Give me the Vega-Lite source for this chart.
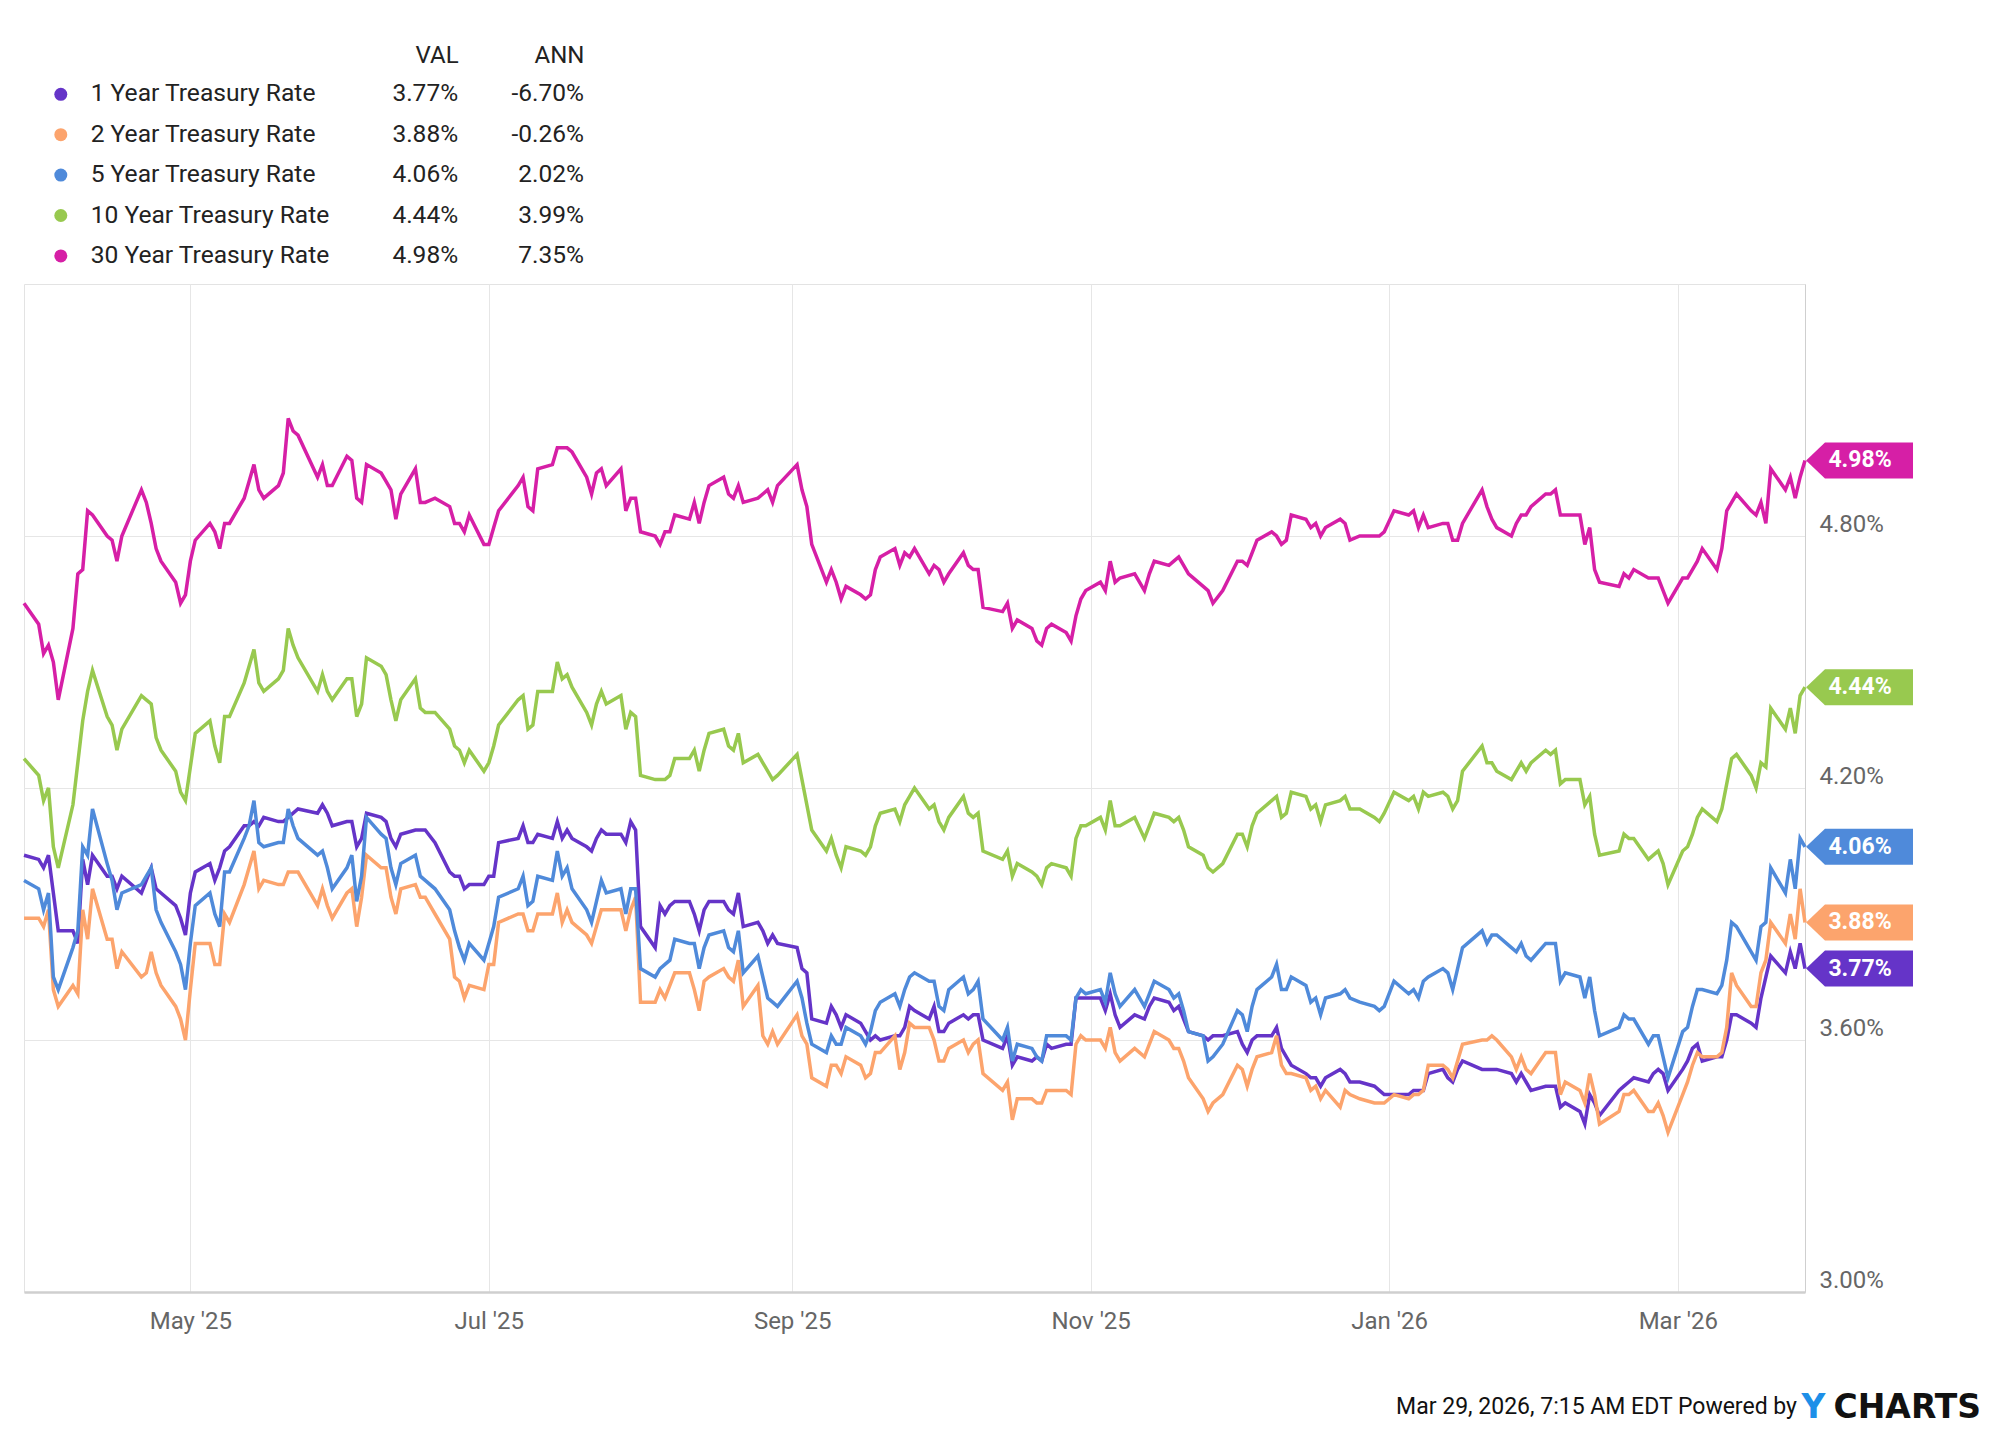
{
"$schema":"https://vega.github.io/schema/vega-lite/v6.json",
"width":1781,"height":1008,
"autosize":{"type":"none"},
"padding":{"left":24,"top":284,"right":195,"bottom":143},
"background":"white",
"config":{"view":{"stroke":"#e3e3e3","strokeWidth":1},"font":"Roboto"},
"title":{"text":"Mar 29, 2026, 7:15 AM EDT Powered by","orient":"bottom","anchor":"end","frame":"group","dx":-8,"offset":-17,"baseline":"middle","font":"Roboto","fontSize":23,"fontWeight":"normal","color":"#111111"},
"datasets":{
"last":[
{"d":"2026-03-27","s":"1","v":3.77,"val":"3.77%","ann":"-6.70%"},
{"d":"2026-03-27","s":"2","v":3.88,"val":"3.88%","ann":"-0.26%"},
{"d":"2026-03-27","s":"5","v":4.06,"val":"4.06%","ann":"2.02%"},
{"d":"2026-03-27","s":"10","v":4.44,"val":"4.44%","ann":"3.99%"},
{"d":"2026-03-27","s":"30","v":4.98,"val":"4.98%","ann":"7.35%"}
],
"rates":[
{"d":"2025-03-28","s":"1","v":4.04},{"d":"2025-03-28","s":"2","v":3.89},{"d":"2025-03-28","s":"5","v":3.98},{"d":"2025-03-28","s":"10","v":4.27},{"d":"2025-03-28","s":"30","v":4.64},
{"d":"2025-03-31","s":"1","v":4.03},{"d":"2025-03-31","s":"2","v":3.89},{"d":"2025-03-31","s":"5","v":3.96},{"d":"2025-03-31","s":"10","v":4.23},{"d":"2025-03-31","s":"30","v":4.59},
{"d":"2025-04-01","s":"1","v":4.01},{"d":"2025-04-01","s":"2","v":3.87},{"d":"2025-04-01","s":"5","v":3.91},{"d":"2025-04-01","s":"10","v":4.17},{"d":"2025-04-01","s":"30","v":4.52},
{"d":"2025-04-02","s":"1","v":4.04},{"d":"2025-04-02","s":"2","v":3.91},{"d":"2025-04-02","s":"5","v":3.95},{"d":"2025-04-02","s":"10","v":4.20},{"d":"2025-04-02","s":"30","v":4.54},
{"d":"2025-04-03","s":"1","v":3.95},{"d":"2025-04-03","s":"2","v":3.72},{"d":"2025-04-03","s":"5","v":3.75},{"d":"2025-04-03","s":"10","v":4.06},{"d":"2025-04-03","s":"30","v":4.50},
{"d":"2025-04-04","s":"1","v":3.86},{"d":"2025-04-04","s":"2","v":3.68},{"d":"2025-04-04","s":"5","v":3.72},{"d":"2025-04-04","s":"10","v":4.01},{"d":"2025-04-04","s":"30","v":4.41},
{"d":"2025-04-07","s":"1","v":3.86},{"d":"2025-04-07","s":"2","v":3.73},{"d":"2025-04-07","s":"5","v":3.82},{"d":"2025-04-07","s":"10","v":4.16},{"d":"2025-04-07","s":"30","v":4.58},
{"d":"2025-04-08","s":"1","v":3.83},{"d":"2025-04-08","s":"2","v":3.71},{"d":"2025-04-08","s":"5","v":3.86},{"d":"2025-04-08","s":"10","v":4.26},{"d":"2025-04-08","s":"30","v":4.71},
{"d":"2025-04-09","s":"1","v":4.03},{"d":"2025-04-09","s":"2","v":3.91},{"d":"2025-04-09","s":"5","v":4.06},{"d":"2025-04-09","s":"10","v":4.36},{"d":"2025-04-09","s":"30","v":4.72},
{"d":"2025-04-10","s":"1","v":3.97},{"d":"2025-04-10","s":"2","v":3.84},{"d":"2025-04-10","s":"5","v":4.04},{"d":"2025-04-10","s":"10","v":4.43},{"d":"2025-04-10","s":"30","v":4.86},
{"d":"2025-04-11","s":"1","v":4.04},{"d":"2025-04-11","s":"2","v":3.96},{"d":"2025-04-11","s":"5","v":4.15},{"d":"2025-04-11","s":"10","v":4.48},{"d":"2025-04-11","s":"30","v":4.85},
{"d":"2025-04-14","s":"1","v":3.99},{"d":"2025-04-14","s":"2","v":3.84},{"d":"2025-04-14","s":"5","v":4.02},{"d":"2025-04-14","s":"10","v":4.37},{"d":"2025-04-14","s":"30","v":4.80},
{"d":"2025-04-15","s":"1","v":3.99},{"d":"2025-04-15","s":"2","v":3.84},{"d":"2025-04-15","s":"5","v":3.98},{"d":"2025-04-15","s":"10","v":4.35},{"d":"2025-04-15","s":"30","v":4.79},
{"d":"2025-04-16","s":"1","v":3.96},{"d":"2025-04-16","s":"2","v":3.77},{"d":"2025-04-16","s":"5","v":3.91},{"d":"2025-04-16","s":"10","v":4.29},{"d":"2025-04-16","s":"30","v":4.74},
{"d":"2025-04-17","s":"1","v":3.99},{"d":"2025-04-17","s":"2","v":3.81},{"d":"2025-04-17","s":"5","v":3.95},{"d":"2025-04-17","s":"10","v":4.34},{"d":"2025-04-17","s":"30","v":4.80},
{"d":"2025-04-21","s":"1","v":3.95},{"d":"2025-04-21","s":"2","v":3.75},{"d":"2025-04-21","s":"5","v":3.97},{"d":"2025-04-21","s":"10","v":4.42},{"d":"2025-04-21","s":"30","v":4.91},
{"d":"2025-04-22","s":"1","v":3.98},{"d":"2025-04-22","s":"2","v":3.76},{"d":"2025-04-22","s":"5","v":3.99},{"d":"2025-04-22","s":"10","v":4.41},{"d":"2025-04-22","s":"30","v":4.88},
{"d":"2025-04-23","s":"1","v":4.01},{"d":"2025-04-23","s":"2","v":3.81},{"d":"2025-04-23","s":"5","v":4.01},{"d":"2025-04-23","s":"10","v":4.40},{"d":"2025-04-23","s":"30","v":4.83},
{"d":"2025-04-24","s":"1","v":3.96},{"d":"2025-04-24","s":"2","v":3.76},{"d":"2025-04-24","s":"5","v":3.91},{"d":"2025-04-24","s":"10","v":4.32},{"d":"2025-04-24","s":"30","v":4.77},
{"d":"2025-04-25","s":"1","v":3.95},{"d":"2025-04-25","s":"2","v":3.73},{"d":"2025-04-25","s":"5","v":3.88},{"d":"2025-04-25","s":"10","v":4.29},{"d":"2025-04-25","s":"30","v":4.74},
{"d":"2025-04-28","s":"1","v":3.92},{"d":"2025-04-28","s":"2","v":3.68},{"d":"2025-04-28","s":"5","v":3.81},{"d":"2025-04-28","s":"10","v":4.24},{"d":"2025-04-28","s":"30","v":4.69},
{"d":"2025-04-29","s":"1","v":3.89},{"d":"2025-04-29","s":"2","v":3.65},{"d":"2025-04-29","s":"5","v":3.78},{"d":"2025-04-29","s":"10","v":4.19},{"d":"2025-04-29","s":"30","v":4.64},
{"d":"2025-04-30","s":"1","v":3.85},{"d":"2025-04-30","s":"2","v":3.60},{"d":"2025-04-30","s":"5","v":3.72},{"d":"2025-04-30","s":"10","v":4.17},{"d":"2025-04-30","s":"30","v":4.66},
{"d":"2025-05-01","s":"1","v":3.95},{"d":"2025-05-01","s":"2","v":3.72},{"d":"2025-05-01","s":"5","v":3.83},{"d":"2025-05-01","s":"10","v":4.25},{"d":"2025-05-01","s":"30","v":4.74},
{"d":"2025-05-02","s":"1","v":4.00},{"d":"2025-05-02","s":"2","v":3.83},{"d":"2025-05-02","s":"5","v":3.92},{"d":"2025-05-02","s":"10","v":4.33},{"d":"2025-05-02","s":"30","v":4.79},
{"d":"2025-05-05","s":"1","v":4.02},{"d":"2025-05-05","s":"2","v":3.83},{"d":"2025-05-05","s":"5","v":3.95},{"d":"2025-05-05","s":"10","v":4.36},{"d":"2025-05-05","s":"30","v":4.83},
{"d":"2025-05-06","s":"1","v":3.98},{"d":"2025-05-06","s":"2","v":3.78},{"d":"2025-05-06","s":"5","v":3.90},{"d":"2025-05-06","s":"10","v":4.30},{"d":"2025-05-06","s":"30","v":4.81},
{"d":"2025-05-07","s":"1","v":4.01},{"d":"2025-05-07","s":"2","v":3.78},{"d":"2025-05-07","s":"5","v":3.87},{"d":"2025-05-07","s":"10","v":4.26},{"d":"2025-05-07","s":"30","v":4.77},
{"d":"2025-05-08","s":"1","v":4.05},{"d":"2025-05-08","s":"2","v":3.90},{"d":"2025-05-08","s":"5","v":4.00},{"d":"2025-05-08","s":"10","v":4.37},{"d":"2025-05-08","s":"30","v":4.83},
{"d":"2025-05-09","s":"1","v":4.06},{"d":"2025-05-09","s":"2","v":3.88},{"d":"2025-05-09","s":"5","v":4.00},{"d":"2025-05-09","s":"10","v":4.37},{"d":"2025-05-09","s":"30","v":4.83},
{"d":"2025-05-12","s":"1","v":4.11},{"d":"2025-05-12","s":"2","v":3.97},{"d":"2025-05-12","s":"5","v":4.08},{"d":"2025-05-12","s":"10","v":4.45},{"d":"2025-05-12","s":"30","v":4.89},
{"d":"2025-05-13","s":"1","v":4.11},{"d":"2025-05-13","s":"2","v":4.01},{"d":"2025-05-13","s":"5","v":4.11},{"d":"2025-05-13","s":"10","v":4.49},{"d":"2025-05-13","s":"30","v":4.93},
{"d":"2025-05-14","s":"1","v":4.12},{"d":"2025-05-14","s":"2","v":4.05},{"d":"2025-05-14","s":"5","v":4.17},{"d":"2025-05-14","s":"10","v":4.53},{"d":"2025-05-14","s":"30","v":4.97},
{"d":"2025-05-15","s":"1","v":4.11},{"d":"2025-05-15","s":"2","v":3.96},{"d":"2025-05-15","s":"5","v":4.07},{"d":"2025-05-15","s":"10","v":4.45},{"d":"2025-05-15","s":"30","v":4.91},
{"d":"2025-05-16","s":"1","v":4.13},{"d":"2025-05-16","s":"2","v":3.98},{"d":"2025-05-16","s":"5","v":4.06},{"d":"2025-05-16","s":"10","v":4.43},{"d":"2025-05-16","s":"30","v":4.89},
{"d":"2025-05-19","s":"1","v":4.12},{"d":"2025-05-19","s":"2","v":3.97},{"d":"2025-05-19","s":"5","v":4.07},{"d":"2025-05-19","s":"10","v":4.46},{"d":"2025-05-19","s":"30","v":4.92},
{"d":"2025-05-20","s":"1","v":4.12},{"d":"2025-05-20","s":"2","v":3.97},{"d":"2025-05-20","s":"5","v":4.07},{"d":"2025-05-20","s":"10","v":4.48},{"d":"2025-05-20","s":"30","v":4.95},
{"d":"2025-05-21","s":"1","v":4.13},{"d":"2025-05-21","s":"2","v":4.00},{"d":"2025-05-21","s":"5","v":4.15},{"d":"2025-05-21","s":"10","v":4.58},{"d":"2025-05-21","s":"30","v":5.08},
{"d":"2025-05-22","s":"1","v":4.14},{"d":"2025-05-22","s":"2","v":4.00},{"d":"2025-05-22","s":"5","v":4.11},{"d":"2025-05-22","s":"10","v":4.54},{"d":"2025-05-22","s":"30","v":5.05},
{"d":"2025-05-23","s":"1","v":4.15},{"d":"2025-05-23","s":"2","v":4.00},{"d":"2025-05-23","s":"5","v":4.08},{"d":"2025-05-23","s":"10","v":4.51},{"d":"2025-05-23","s":"30","v":5.04},
{"d":"2025-05-27","s":"1","v":4.14},{"d":"2025-05-27","s":"2","v":3.92},{"d":"2025-05-27","s":"5","v":4.04},{"d":"2025-05-27","s":"10","v":4.43},{"d":"2025-05-27","s":"30","v":4.94},
{"d":"2025-05-28","s":"1","v":4.16},{"d":"2025-05-28","s":"2","v":3.96},{"d":"2025-05-28","s":"5","v":4.05},{"d":"2025-05-28","s":"10","v":4.47},{"d":"2025-05-28","s":"30","v":4.97},
{"d":"2025-05-29","s":"1","v":4.14},{"d":"2025-05-29","s":"2","v":3.92},{"d":"2025-05-29","s":"5","v":4.01},{"d":"2025-05-29","s":"10","v":4.43},{"d":"2025-05-29","s":"30","v":4.92},
{"d":"2025-05-30","s":"1","v":4.11},{"d":"2025-05-30","s":"2","v":3.89},{"d":"2025-05-30","s":"5","v":3.96},{"d":"2025-05-30","s":"10","v":4.41},{"d":"2025-05-30","s":"30","v":4.92},
{"d":"2025-06-02","s":"1","v":4.12},{"d":"2025-06-02","s":"2","v":3.95},{"d":"2025-06-02","s":"5","v":4.01},{"d":"2025-06-02","s":"10","v":4.46},{"d":"2025-06-02","s":"30","v":4.99},
{"d":"2025-06-03","s":"1","v":4.12},{"d":"2025-06-03","s":"2","v":3.96},{"d":"2025-06-03","s":"5","v":4.04},{"d":"2025-06-03","s":"10","v":4.46},{"d":"2025-06-03","s":"30","v":4.98},
{"d":"2025-06-04","s":"1","v":4.06},{"d":"2025-06-04","s":"2","v":3.87},{"d":"2025-06-04","s":"5","v":3.93},{"d":"2025-06-04","s":"10","v":4.37},{"d":"2025-06-04","s":"30","v":4.89},
{"d":"2025-06-05","s":"1","v":4.08},{"d":"2025-06-05","s":"2","v":3.94},{"d":"2025-06-05","s":"5","v":3.99},{"d":"2025-06-05","s":"10","v":4.40},{"d":"2025-06-05","s":"30","v":4.88},
{"d":"2025-06-06","s":"1","v":4.14},{"d":"2025-06-06","s":"2","v":4.04},{"d":"2025-06-06","s":"5","v":4.13},{"d":"2025-06-06","s":"10","v":4.51},{"d":"2025-06-06","s":"30","v":4.97},
{"d":"2025-06-09","s":"1","v":4.13},{"d":"2025-06-09","s":"2","v":4.01},{"d":"2025-06-09","s":"5","v":4.09},{"d":"2025-06-09","s":"10","v":4.49},{"d":"2025-06-09","s":"30","v":4.95},
{"d":"2025-06-10","s":"1","v":4.12},{"d":"2025-06-10","s":"2","v":4.01},{"d":"2025-06-10","s":"5","v":4.08},{"d":"2025-06-10","s":"10","v":4.47},{"d":"2025-06-10","s":"30","v":4.93},
{"d":"2025-06-11","s":"1","v":4.08},{"d":"2025-06-11","s":"2","v":3.94},{"d":"2025-06-11","s":"5","v":4.01},{"d":"2025-06-11","s":"10","v":4.41},{"d":"2025-06-11","s":"30","v":4.91},
{"d":"2025-06-12","s":"1","v":4.06},{"d":"2025-06-12","s":"2","v":3.90},{"d":"2025-06-12","s":"5","v":3.97},{"d":"2025-06-12","s":"10","v":4.36},{"d":"2025-06-12","s":"30","v":4.84},
{"d":"2025-06-13","s":"1","v":4.09},{"d":"2025-06-13","s":"2","v":3.96},{"d":"2025-06-13","s":"5","v":4.02},{"d":"2025-06-13","s":"10","v":4.41},{"d":"2025-06-13","s":"30","v":4.90},
{"d":"2025-06-16","s":"1","v":4.10},{"d":"2025-06-16","s":"2","v":3.97},{"d":"2025-06-16","s":"5","v":4.04},{"d":"2025-06-16","s":"10","v":4.46},{"d":"2025-06-16","s":"30","v":4.96},
{"d":"2025-06-17","s":"1","v":4.10},{"d":"2025-06-17","s":"2","v":3.94},{"d":"2025-06-17","s":"5","v":3.99},{"d":"2025-06-17","s":"10","v":4.39},{"d":"2025-06-17","s":"30","v":4.88},
{"d":"2025-06-18","s":"1","v":4.10},{"d":"2025-06-18","s":"2","v":3.94},{"d":"2025-06-18","s":"5","v":3.98},{"d":"2025-06-18","s":"10","v":4.38},{"d":"2025-06-18","s":"30","v":4.88},
{"d":"2025-06-20","s":"1","v":4.07},{"d":"2025-06-20","s":"2","v":3.90},{"d":"2025-06-20","s":"5","v":3.96},{"d":"2025-06-20","s":"10","v":4.38},{"d":"2025-06-20","s":"30","v":4.89},
{"d":"2025-06-23","s":"1","v":4.00},{"d":"2025-06-23","s":"2","v":3.84},{"d":"2025-06-23","s":"5","v":3.91},{"d":"2025-06-23","s":"10","v":4.34},{"d":"2025-06-23","s":"30","v":4.87},
{"d":"2025-06-24","s":"1","v":3.99},{"d":"2025-06-24","s":"2","v":3.75},{"d":"2025-06-24","s":"5","v":3.86},{"d":"2025-06-24","s":"10","v":4.30},{"d":"2025-06-24","s":"30","v":4.83},
{"d":"2025-06-25","s":"1","v":3.99},{"d":"2025-06-25","s":"2","v":3.74},{"d":"2025-06-25","s":"5","v":3.82},{"d":"2025-06-25","s":"10","v":4.29},{"d":"2025-06-25","s":"30","v":4.83},
{"d":"2025-06-26","s":"1","v":3.96},{"d":"2025-06-26","s":"2","v":3.70},{"d":"2025-06-26","s":"5","v":3.79},{"d":"2025-06-26","s":"10","v":4.26},{"d":"2025-06-26","s":"30","v":4.81},
{"d":"2025-06-27","s":"1","v":3.97},{"d":"2025-06-27","s":"2","v":3.73},{"d":"2025-06-27","s":"5","v":3.83},{"d":"2025-06-27","s":"10","v":4.29},{"d":"2025-06-27","s":"30","v":4.85},
{"d":"2025-06-30","s":"1","v":3.97},{"d":"2025-06-30","s":"2","v":3.72},{"d":"2025-06-30","s":"5","v":3.79},{"d":"2025-06-30","s":"10","v":4.24},{"d":"2025-06-30","s":"30","v":4.78},
{"d":"2025-07-01","s":"1","v":3.99},{"d":"2025-07-01","s":"2","v":3.78},{"d":"2025-07-01","s":"5","v":3.83},{"d":"2025-07-01","s":"10","v":4.26},{"d":"2025-07-01","s":"30","v":4.78},
{"d":"2025-07-02","s":"1","v":3.99},{"d":"2025-07-02","s":"2","v":3.78},{"d":"2025-07-02","s":"5","v":3.87},{"d":"2025-07-02","s":"10","v":4.30},{"d":"2025-07-02","s":"30","v":4.82},
{"d":"2025-07-03","s":"1","v":4.07},{"d":"2025-07-03","s":"2","v":3.88},{"d":"2025-07-03","s":"5","v":3.94},{"d":"2025-07-03","s":"10","v":4.35},{"d":"2025-07-03","s":"30","v":4.86},
{"d":"2025-07-07","s":"1","v":4.08},{"d":"2025-07-07","s":"2","v":3.90},{"d":"2025-07-07","s":"5","v":3.96},{"d":"2025-07-07","s":"10","v":4.41},{"d":"2025-07-07","s":"30","v":4.92},
{"d":"2025-07-08","s":"1","v":4.11},{"d":"2025-07-08","s":"2","v":3.90},{"d":"2025-07-08","s":"5","v":3.99},{"d":"2025-07-08","s":"10","v":4.42},{"d":"2025-07-08","s":"30","v":4.94},
{"d":"2025-07-09","s":"1","v":4.07},{"d":"2025-07-09","s":"2","v":3.86},{"d":"2025-07-09","s":"5","v":3.92},{"d":"2025-07-09","s":"10","v":4.34},{"d":"2025-07-09","s":"30","v":4.87},
{"d":"2025-07-10","s":"1","v":4.07},{"d":"2025-07-10","s":"2","v":3.86},{"d":"2025-07-10","s":"5","v":3.93},{"d":"2025-07-10","s":"10","v":4.35},{"d":"2025-07-10","s":"30","v":4.86},
{"d":"2025-07-11","s":"1","v":4.09},{"d":"2025-07-11","s":"2","v":3.90},{"d":"2025-07-11","s":"5","v":3.99},{"d":"2025-07-11","s":"10","v":4.43},{"d":"2025-07-11","s":"30","v":4.96},
{"d":"2025-07-14","s":"1","v":4.08},{"d":"2025-07-14","s":"2","v":3.90},{"d":"2025-07-14","s":"5","v":3.98},{"d":"2025-07-14","s":"10","v":4.43},{"d":"2025-07-14","s":"30","v":4.97},
{"d":"2025-07-15","s":"1","v":4.12},{"d":"2025-07-15","s":"2","v":3.95},{"d":"2025-07-15","s":"5","v":4.05},{"d":"2025-07-15","s":"10","v":4.50},{"d":"2025-07-15","s":"30","v":5.01},
{"d":"2025-07-16","s":"1","v":4.08},{"d":"2025-07-16","s":"2","v":3.88},{"d":"2025-07-16","s":"5","v":3.99},{"d":"2025-07-16","s":"10","v":4.46},{"d":"2025-07-16","s":"30","v":5.01},
{"d":"2025-07-17","s":"1","v":4.10},{"d":"2025-07-17","s":"2","v":3.91},{"d":"2025-07-17","s":"5","v":4.01},{"d":"2025-07-17","s":"10","v":4.47},{"d":"2025-07-17","s":"30","v":5.01},
{"d":"2025-07-18","s":"1","v":4.08},{"d":"2025-07-18","s":"2","v":3.88},{"d":"2025-07-18","s":"5","v":3.96},{"d":"2025-07-18","s":"10","v":4.44},{"d":"2025-07-18","s":"30","v":5.00},
{"d":"2025-07-21","s":"1","v":4.06},{"d":"2025-07-21","s":"2","v":3.85},{"d":"2025-07-21","s":"5","v":3.91},{"d":"2025-07-21","s":"10","v":4.38},{"d":"2025-07-21","s":"30","v":4.94},
{"d":"2025-07-22","s":"1","v":4.05},{"d":"2025-07-22","s":"2","v":3.83},{"d":"2025-07-22","s":"5","v":3.88},{"d":"2025-07-22","s":"10","v":4.35},{"d":"2025-07-22","s":"30","v":4.90},
{"d":"2025-07-23","s":"1","v":4.08},{"d":"2025-07-23","s":"2","v":3.87},{"d":"2025-07-23","s":"5","v":3.93},{"d":"2025-07-23","s":"10","v":4.40},{"d":"2025-07-23","s":"30","v":4.95},
{"d":"2025-07-24","s":"1","v":4.10},{"d":"2025-07-24","s":"2","v":3.91},{"d":"2025-07-24","s":"5","v":3.98},{"d":"2025-07-24","s":"10","v":4.43},{"d":"2025-07-24","s":"30","v":4.96},
{"d":"2025-07-25","s":"1","v":4.09},{"d":"2025-07-25","s":"2","v":3.91},{"d":"2025-07-25","s":"5","v":3.95},{"d":"2025-07-25","s":"10","v":4.40},{"d":"2025-07-25","s":"30","v":4.92},
{"d":"2025-07-28","s":"1","v":4.09},{"d":"2025-07-28","s":"2","v":3.91},{"d":"2025-07-28","s":"5","v":3.96},{"d":"2025-07-28","s":"10","v":4.42},{"d":"2025-07-28","s":"30","v":4.96},
{"d":"2025-07-29","s":"1","v":4.07},{"d":"2025-07-29","s":"2","v":3.86},{"d":"2025-07-29","s":"5","v":3.90},{"d":"2025-07-29","s":"10","v":4.34},{"d":"2025-07-29","s":"30","v":4.86},
{"d":"2025-07-30","s":"1","v":4.12},{"d":"2025-07-30","s":"2","v":3.91},{"d":"2025-07-30","s":"5","v":3.96},{"d":"2025-07-30","s":"10","v":4.38},{"d":"2025-07-30","s":"30","v":4.89},
{"d":"2025-07-31","s":"1","v":4.10},{"d":"2025-07-31","s":"2","v":3.94},{"d":"2025-07-31","s":"5","v":3.96},{"d":"2025-07-31","s":"10","v":4.37},{"d":"2025-07-31","s":"30","v":4.89},
{"d":"2025-08-01","s":"1","v":3.87},{"d":"2025-08-01","s":"2","v":3.69},{"d":"2025-08-01","s":"5","v":3.77},{"d":"2025-08-01","s":"10","v":4.23},{"d":"2025-08-01","s":"30","v":4.81},
{"d":"2025-08-04","s":"1","v":3.82},{"d":"2025-08-04","s":"2","v":3.69},{"d":"2025-08-04","s":"5","v":3.75},{"d":"2025-08-04","s":"10","v":4.22},{"d":"2025-08-04","s":"30","v":4.80},
{"d":"2025-08-05","s":"1","v":3.92},{"d":"2025-08-05","s":"2","v":3.72},{"d":"2025-08-05","s":"5","v":3.77},{"d":"2025-08-05","s":"10","v":4.22},{"d":"2025-08-05","s":"30","v":4.78},
{"d":"2025-08-06","s":"1","v":3.90},{"d":"2025-08-06","s":"2","v":3.70},{"d":"2025-08-06","s":"5","v":3.78},{"d":"2025-08-06","s":"10","v":4.22},{"d":"2025-08-06","s":"30","v":4.81},
{"d":"2025-08-07","s":"1","v":3.92},{"d":"2025-08-07","s":"2","v":3.73},{"d":"2025-08-07","s":"5","v":3.79},{"d":"2025-08-07","s":"10","v":4.23},{"d":"2025-08-07","s":"30","v":4.81},
{"d":"2025-08-08","s":"1","v":3.93},{"d":"2025-08-08","s":"2","v":3.76},{"d":"2025-08-08","s":"5","v":3.84},{"d":"2025-08-08","s":"10","v":4.27},{"d":"2025-08-08","s":"30","v":4.85},
{"d":"2025-08-11","s":"1","v":3.93},{"d":"2025-08-11","s":"2","v":3.76},{"d":"2025-08-11","s":"5","v":3.83},{"d":"2025-08-11","s":"10","v":4.27},{"d":"2025-08-11","s":"30","v":4.84},
{"d":"2025-08-12","s":"1","v":3.90},{"d":"2025-08-12","s":"2","v":3.72},{"d":"2025-08-12","s":"5","v":3.83},{"d":"2025-08-12","s":"10","v":4.29},{"d":"2025-08-12","s":"30","v":4.88},
{"d":"2025-08-13","s":"1","v":3.86},{"d":"2025-08-13","s":"2","v":3.67},{"d":"2025-08-13","s":"5","v":3.77},{"d":"2025-08-13","s":"10","v":4.24},{"d":"2025-08-13","s":"30","v":4.83},
{"d":"2025-08-14","s":"1","v":3.91},{"d":"2025-08-14","s":"2","v":3.74},{"d":"2025-08-14","s":"5","v":3.82},{"d":"2025-08-14","s":"10","v":4.29},{"d":"2025-08-14","s":"30","v":4.88},
{"d":"2025-08-15","s":"1","v":3.93},{"d":"2025-08-15","s":"2","v":3.75},{"d":"2025-08-15","s":"5","v":3.85},{"d":"2025-08-15","s":"10","v":4.33},{"d":"2025-08-15","s":"30","v":4.92},
{"d":"2025-08-18","s":"1","v":3.93},{"d":"2025-08-18","s":"2","v":3.77},{"d":"2025-08-18","s":"5","v":3.86},{"d":"2025-08-18","s":"10","v":4.34},{"d":"2025-08-18","s":"30","v":4.94},
{"d":"2025-08-19","s":"1","v":3.91},{"d":"2025-08-19","s":"2","v":3.75},{"d":"2025-08-19","s":"5","v":3.82},{"d":"2025-08-19","s":"10","v":4.30},{"d":"2025-08-19","s":"30","v":4.90},
{"d":"2025-08-20","s":"1","v":3.90},{"d":"2025-08-20","s":"2","v":3.74},{"d":"2025-08-20","s":"5","v":3.81},{"d":"2025-08-20","s":"10","v":4.29},{"d":"2025-08-20","s":"30","v":4.89},
{"d":"2025-08-21","s":"1","v":3.95},{"d":"2025-08-21","s":"2","v":3.79},{"d":"2025-08-21","s":"5","v":3.86},{"d":"2025-08-21","s":"10","v":4.33},{"d":"2025-08-21","s":"30","v":4.92},
{"d":"2025-08-22","s":"1","v":3.87},{"d":"2025-08-22","s":"2","v":3.68},{"d":"2025-08-22","s":"5","v":3.76},{"d":"2025-08-22","s":"10","v":4.26},{"d":"2025-08-22","s":"30","v":4.88},
{"d":"2025-08-25","s":"1","v":3.88},{"d":"2025-08-25","s":"2","v":3.73},{"d":"2025-08-25","s":"5","v":3.80},{"d":"2025-08-25","s":"10","v":4.28},{"d":"2025-08-25","s":"30","v":4.89},
{"d":"2025-08-26","s":"1","v":3.86},{"d":"2025-08-26","s":"2","v":3.61},{"d":"2025-08-26","s":"5","v":3.75},{"d":"2025-08-26","s":"10","v":4.26},{"d":"2025-08-26","s":"30","v":4.90},
{"d":"2025-08-27","s":"1","v":3.83},{"d":"2025-08-27","s":"2","v":3.59},{"d":"2025-08-27","s":"5","v":3.70},{"d":"2025-08-27","s":"10","v":4.24},{"d":"2025-08-27","s":"30","v":4.91},
{"d":"2025-08-28","s":"1","v":3.85},{"d":"2025-08-28","s":"2","v":3.62},{"d":"2025-08-28","s":"5","v":3.69},{"d":"2025-08-28","s":"10","v":4.22},{"d":"2025-08-28","s":"30","v":4.88},
{"d":"2025-08-29","s":"1","v":3.83},{"d":"2025-08-29","s":"2","v":3.59},{"d":"2025-08-29","s":"5","v":3.68},{"d":"2025-08-29","s":"10","v":4.23},{"d":"2025-08-29","s":"30","v":4.92},
{"d":"2025-09-02","s":"1","v":3.82},{"d":"2025-09-02","s":"2","v":3.66},{"d":"2025-09-02","s":"5","v":3.74},{"d":"2025-09-02","s":"10","v":4.28},{"d":"2025-09-02","s":"30","v":4.97},
{"d":"2025-09-03","s":"1","v":3.77},{"d":"2025-09-03","s":"2","v":3.61},{"d":"2025-09-03","s":"5","v":3.70},{"d":"2025-09-03","s":"10","v":4.22},{"d":"2025-09-03","s":"30","v":4.91},
{"d":"2025-09-04","s":"1","v":3.76},{"d":"2025-09-04","s":"2","v":3.59},{"d":"2025-09-04","s":"5","v":3.64},{"d":"2025-09-04","s":"10","v":4.16},{"d":"2025-09-04","s":"30","v":4.87},
{"d":"2025-09-05","s":"1","v":3.65},{"d":"2025-09-05","s":"2","v":3.51},{"d":"2025-09-05","s":"5","v":3.59},{"d":"2025-09-05","s":"10","v":4.10},{"d":"2025-09-05","s":"30","v":4.78},
{"d":"2025-09-08","s":"1","v":3.64},{"d":"2025-09-08","s":"2","v":3.49},{"d":"2025-09-08","s":"5","v":3.57},{"d":"2025-09-08","s":"10","v":4.05},{"d":"2025-09-08","s":"30","v":4.69},
{"d":"2025-09-09","s":"1","v":3.68},{"d":"2025-09-09","s":"2","v":3.54},{"d":"2025-09-09","s":"5","v":3.61},{"d":"2025-09-09","s":"10","v":4.08},{"d":"2025-09-09","s":"30","v":4.72},
{"d":"2025-09-10","s":"1","v":3.66},{"d":"2025-09-10","s":"2","v":3.54},{"d":"2025-09-10","s":"5","v":3.59},{"d":"2025-09-10","s":"10","v":4.04},{"d":"2025-09-10","s":"30","v":4.69},
{"d":"2025-09-11","s":"1","v":3.63},{"d":"2025-09-11","s":"2","v":3.52},{"d":"2025-09-11","s":"5","v":3.59},{"d":"2025-09-11","s":"10","v":4.01},{"d":"2025-09-11","s":"30","v":4.65},
{"d":"2025-09-12","s":"1","v":3.66},{"d":"2025-09-12","s":"2","v":3.56},{"d":"2025-09-12","s":"5","v":3.63},{"d":"2025-09-12","s":"10","v":4.06},{"d":"2025-09-12","s":"30","v":4.68},
{"d":"2025-09-15","s":"1","v":3.64},{"d":"2025-09-15","s":"2","v":3.54},{"d":"2025-09-15","s":"5","v":3.61},{"d":"2025-09-15","s":"10","v":4.05},{"d":"2025-09-15","s":"30","v":4.66},
{"d":"2025-09-16","s":"1","v":3.62},{"d":"2025-09-16","s":"2","v":3.51},{"d":"2025-09-16","s":"5","v":3.59},{"d":"2025-09-16","s":"10","v":4.04},{"d":"2025-09-16","s":"30","v":4.65},
{"d":"2025-09-17","s":"1","v":3.60},{"d":"2025-09-17","s":"2","v":3.52},{"d":"2025-09-17","s":"5","v":3.62},{"d":"2025-09-17","s":"10","v":4.06},{"d":"2025-09-17","s":"30","v":4.66},
{"d":"2025-09-18","s":"1","v":3.61},{"d":"2025-09-18","s":"2","v":3.57},{"d":"2025-09-18","s":"5","v":3.67},{"d":"2025-09-18","s":"10","v":4.11},{"d":"2025-09-18","s":"30","v":4.72},
{"d":"2025-09-19","s":"1","v":3.60},{"d":"2025-09-19","s":"2","v":3.57},{"d":"2025-09-19","s":"5","v":3.69},{"d":"2025-09-19","s":"10","v":4.14},{"d":"2025-09-19","s":"30","v":4.75},
{"d":"2025-09-22","s":"1","v":3.61},{"d":"2025-09-22","s":"2","v":3.61},{"d":"2025-09-22","s":"5","v":3.71},{"d":"2025-09-22","s":"10","v":4.15},{"d":"2025-09-22","s":"30","v":4.77},
{"d":"2025-09-23","s":"1","v":3.61},{"d":"2025-09-23","s":"2","v":3.53},{"d":"2025-09-23","s":"5","v":3.68},{"d":"2025-09-23","s":"10","v":4.12},{"d":"2025-09-23","s":"30","v":4.73},
{"d":"2025-09-24","s":"1","v":3.63},{"d":"2025-09-24","s":"2","v":3.57},{"d":"2025-09-24","s":"5","v":3.72},{"d":"2025-09-24","s":"10","v":4.16},{"d":"2025-09-24","s":"30","v":4.76},
{"d":"2025-09-25","s":"1","v":3.68},{"d":"2025-09-25","s":"2","v":3.64},{"d":"2025-09-25","s":"5","v":3.75},{"d":"2025-09-25","s":"10","v":4.18},{"d":"2025-09-25","s":"30","v":4.75},
{"d":"2025-09-26","s":"1","v":3.67},{"d":"2025-09-26","s":"2","v":3.63},{"d":"2025-09-26","s":"5","v":3.76},{"d":"2025-09-26","s":"10","v":4.20},{"d":"2025-09-26","s":"30","v":4.77},
{"d":"2025-09-29","s":"1","v":3.65},{"d":"2025-09-29","s":"2","v":3.63},{"d":"2025-09-29","s":"5","v":3.74},{"d":"2025-09-29","s":"10","v":4.15},{"d":"2025-09-29","s":"30","v":4.71},
{"d":"2025-09-30","s":"1","v":3.68},{"d":"2025-09-30","s":"2","v":3.60},{"d":"2025-09-30","s":"5","v":3.74},{"d":"2025-09-30","s":"10","v":4.16},{"d":"2025-09-30","s":"30","v":4.73},
{"d":"2025-10-01","s":"1","v":3.62},{"d":"2025-10-01","s":"2","v":3.55},{"d":"2025-10-01","s":"5","v":3.68},{"d":"2025-10-01","s":"10","v":4.12},{"d":"2025-10-01","s":"30","v":4.72},
{"d":"2025-10-02","s":"1","v":3.62},{"d":"2025-10-02","s":"2","v":3.55},{"d":"2025-10-02","s":"5","v":3.67},{"d":"2025-10-02","s":"10","v":4.10},{"d":"2025-10-02","s":"30","v":4.69},
{"d":"2025-10-03","s":"1","v":3.64},{"d":"2025-10-03","s":"2","v":3.58},{"d":"2025-10-03","s":"5","v":3.72},{"d":"2025-10-03","s":"10","v":4.13},{"d":"2025-10-03","s":"30","v":4.71},
{"d":"2025-10-06","s":"1","v":3.66},{"d":"2025-10-06","s":"2","v":3.60},{"d":"2025-10-06","s":"5","v":3.75},{"d":"2025-10-06","s":"10","v":4.18},{"d":"2025-10-06","s":"30","v":4.76},
{"d":"2025-10-07","s":"1","v":3.65},{"d":"2025-10-07","s":"2","v":3.57},{"d":"2025-10-07","s":"5","v":3.71},{"d":"2025-10-07","s":"10","v":4.14},{"d":"2025-10-07","s":"30","v":4.73},
{"d":"2025-10-08","s":"1","v":3.66},{"d":"2025-10-08","s":"2","v":3.59},{"d":"2025-10-08","s":"5","v":3.72},{"d":"2025-10-08","s":"10","v":4.13},{"d":"2025-10-08","s":"30","v":4.72},
{"d":"2025-10-09","s":"1","v":3.66},{"d":"2025-10-09","s":"2","v":3.60},{"d":"2025-10-09","s":"5","v":3.74},{"d":"2025-10-09","s":"10","v":4.14},{"d":"2025-10-09","s":"30","v":4.72},
{"d":"2025-10-10","s":"1","v":3.60},{"d":"2025-10-10","s":"2","v":3.52},{"d":"2025-10-10","s":"5","v":3.65},{"d":"2025-10-10","s":"10","v":4.05},{"d":"2025-10-10","s":"30","v":4.63},
{"d":"2025-10-14","s":"1","v":3.58},{"d":"2025-10-14","s":"2","v":3.48},{"d":"2025-10-14","s":"5","v":3.60},{"d":"2025-10-14","s":"10","v":4.03},{"d":"2025-10-14","s":"30","v":4.62},
{"d":"2025-10-15","s":"1","v":3.61},{"d":"2025-10-15","s":"2","v":3.50},{"d":"2025-10-15","s":"5","v":3.63},{"d":"2025-10-15","s":"10","v":4.05},{"d":"2025-10-15","s":"30","v":4.64},
{"d":"2025-10-16","s":"1","v":3.54},{"d":"2025-10-16","s":"2","v":3.41},{"d":"2025-10-16","s":"5","v":3.55},{"d":"2025-10-16","s":"10","v":3.99},{"d":"2025-10-16","s":"30","v":4.58},
{"d":"2025-10-17","s":"1","v":3.56},{"d":"2025-10-17","s":"2","v":3.46},{"d":"2025-10-17","s":"5","v":3.59},{"d":"2025-10-17","s":"10","v":4.02},{"d":"2025-10-17","s":"30","v":4.60},
{"d":"2025-10-20","s":"1","v":3.55},{"d":"2025-10-20","s":"2","v":3.46},{"d":"2025-10-20","s":"5","v":3.58},{"d":"2025-10-20","s":"10","v":4.00},{"d":"2025-10-20","s":"30","v":4.58},
{"d":"2025-10-21","s":"1","v":3.56},{"d":"2025-10-21","s":"2","v":3.45},{"d":"2025-10-21","s":"5","v":3.56},{"d":"2025-10-21","s":"10","v":3.99},{"d":"2025-10-21","s":"30","v":4.55},
{"d":"2025-10-22","s":"1","v":3.55},{"d":"2025-10-22","s":"2","v":3.45},{"d":"2025-10-22","s":"5","v":3.55},{"d":"2025-10-22","s":"10","v":3.97},{"d":"2025-10-22","s":"30","v":4.54},
{"d":"2025-10-23","s":"1","v":3.59},{"d":"2025-10-23","s":"2","v":3.48},{"d":"2025-10-23","s":"5","v":3.61},{"d":"2025-10-23","s":"10","v":4.01},{"d":"2025-10-23","s":"30","v":4.58},
{"d":"2025-10-24","s":"1","v":3.58},{"d":"2025-10-24","s":"2","v":3.48},{"d":"2025-10-24","s":"5","v":3.61},{"d":"2025-10-24","s":"10","v":4.02},{"d":"2025-10-24","s":"30","v":4.59},
{"d":"2025-10-27","s":"1","v":3.59},{"d":"2025-10-27","s":"2","v":3.48},{"d":"2025-10-27","s":"5","v":3.61},{"d":"2025-10-27","s":"10","v":4.01},{"d":"2025-10-27","s":"30","v":4.57},
{"d":"2025-10-28","s":"1","v":3.59},{"d":"2025-10-28","s":"2","v":3.47},{"d":"2025-10-28","s":"5","v":3.60},{"d":"2025-10-28","s":"10","v":3.99},{"d":"2025-10-28","s":"30","v":4.55},
{"d":"2025-10-29","s":"1","v":3.70},{"d":"2025-10-29","s":"2","v":3.59},{"d":"2025-10-29","s":"5","v":3.70},{"d":"2025-10-29","s":"10","v":4.08},{"d":"2025-10-29","s":"30","v":4.61},
{"d":"2025-10-30","s":"1","v":3.70},{"d":"2025-10-30","s":"2","v":3.61},{"d":"2025-10-30","s":"5","v":3.72},{"d":"2025-10-30","s":"10","v":4.11},{"d":"2025-10-30","s":"30","v":4.65},
{"d":"2025-10-31","s":"1","v":3.70},{"d":"2025-10-31","s":"2","v":3.60},{"d":"2025-10-31","s":"5","v":3.71},{"d":"2025-10-31","s":"10","v":4.11},{"d":"2025-10-31","s":"30","v":4.67},
{"d":"2025-11-03","s":"1","v":3.70},{"d":"2025-11-03","s":"2","v":3.60},{"d":"2025-11-03","s":"5","v":3.72},{"d":"2025-11-03","s":"10","v":4.13},{"d":"2025-11-03","s":"30","v":4.69},
{"d":"2025-11-04","s":"1","v":3.67},{"d":"2025-11-04","s":"2","v":3.58},{"d":"2025-11-04","s":"5","v":3.69},{"d":"2025-11-04","s":"10","v":4.10},{"d":"2025-11-04","s":"30","v":4.67},
{"d":"2025-11-05","s":"1","v":3.71},{"d":"2025-11-05","s":"2","v":3.63},{"d":"2025-11-05","s":"5","v":3.76},{"d":"2025-11-05","s":"10","v":4.17},{"d":"2025-11-05","s":"30","v":4.74},
{"d":"2025-11-06","s":"1","v":3.66},{"d":"2025-11-06","s":"2","v":3.57},{"d":"2025-11-06","s":"5","v":3.71},{"d":"2025-11-06","s":"10","v":4.11},{"d":"2025-11-06","s":"30","v":4.69},
{"d":"2025-11-07","s":"1","v":3.63},{"d":"2025-11-07","s":"2","v":3.55},{"d":"2025-11-07","s":"5","v":3.68},{"d":"2025-11-07","s":"10","v":4.11},{"d":"2025-11-07","s":"30","v":4.70},
{"d":"2025-11-10","s":"1","v":3.66},{"d":"2025-11-10","s":"2","v":3.58},{"d":"2025-11-10","s":"5","v":3.72},{"d":"2025-11-10","s":"10","v":4.13},{"d":"2025-11-10","s":"30","v":4.71},
{"d":"2025-11-12","s":"1","v":3.65},{"d":"2025-11-12","s":"2","v":3.56},{"d":"2025-11-12","s":"5","v":3.68},{"d":"2025-11-12","s":"10","v":4.08},{"d":"2025-11-12","s":"30","v":4.67},
{"d":"2025-11-13","s":"1","v":3.68},{"d":"2025-11-13","s":"2","v":3.59},{"d":"2025-11-13","s":"5","v":3.71},{"d":"2025-11-13","s":"10","v":4.11},{"d":"2025-11-13","s":"30","v":4.71},
{"d":"2025-11-14","s":"1","v":3.70},{"d":"2025-11-14","s":"2","v":3.62},{"d":"2025-11-14","s":"5","v":3.74},{"d":"2025-11-14","s":"10","v":4.14},{"d":"2025-11-14","s":"30","v":4.74},
{"d":"2025-11-17","s":"1","v":3.69},{"d":"2025-11-17","s":"2","v":3.60},{"d":"2025-11-17","s":"5","v":3.72},{"d":"2025-11-17","s":"10","v":4.13},{"d":"2025-11-17","s":"30","v":4.73},
{"d":"2025-11-18","s":"1","v":3.67},{"d":"2025-11-18","s":"2","v":3.58},{"d":"2025-11-18","s":"5","v":3.70},{"d":"2025-11-18","s":"10","v":4.12},{"d":"2025-11-18","s":"30","v":4.74},
{"d":"2025-11-19","s":"1","v":3.68},{"d":"2025-11-19","s":"2","v":3.58},{"d":"2025-11-19","s":"5","v":3.71},{"d":"2025-11-19","s":"10","v":4.13},{"d":"2025-11-19","s":"30","v":4.75},
{"d":"2025-11-20","s":"1","v":3.65},{"d":"2025-11-20","s":"2","v":3.55},{"d":"2025-11-20","s":"5","v":3.67},{"d":"2025-11-20","s":"10","v":4.10},{"d":"2025-11-20","s":"30","v":4.73},
{"d":"2025-11-21","s":"1","v":3.62},{"d":"2025-11-21","s":"2","v":3.51},{"d":"2025-11-21","s":"5","v":3.62},{"d":"2025-11-21","s":"10","v":4.06},{"d":"2025-11-21","s":"30","v":4.71},
{"d":"2025-11-24","s":"1","v":3.61},{"d":"2025-11-24","s":"2","v":3.46},{"d":"2025-11-24","s":"5","v":3.61},{"d":"2025-11-24","s":"10","v":4.04},{"d":"2025-11-24","s":"30","v":4.68},
{"d":"2025-11-25","s":"1","v":3.60},{"d":"2025-11-25","s":"2","v":3.43},{"d":"2025-11-25","s":"5","v":3.55},{"d":"2025-11-25","s":"10","v":4.01},{"d":"2025-11-25","s":"30","v":4.67},
{"d":"2025-11-26","s":"1","v":3.61},{"d":"2025-11-26","s":"2","v":3.45},{"d":"2025-11-26","s":"5","v":3.56},{"d":"2025-11-26","s":"10","v":4.00},{"d":"2025-11-26","s":"30","v":4.64},
{"d":"2025-11-28","s":"1","v":3.61},{"d":"2025-11-28","s":"2","v":3.47},{"d":"2025-11-28","s":"5","v":3.59},{"d":"2025-11-28","s":"10","v":4.02},{"d":"2025-11-28","s":"30","v":4.67},
{"d":"2025-12-01","s":"1","v":3.62},{"d":"2025-12-01","s":"2","v":3.54},{"d":"2025-12-01","s":"5","v":3.67},{"d":"2025-12-01","s":"10","v":4.09},{"d":"2025-12-01","s":"30","v":4.74},
{"d":"2025-12-02","s":"1","v":3.59},{"d":"2025-12-02","s":"2","v":3.53},{"d":"2025-12-02","s":"5","v":3.66},{"d":"2025-12-02","s":"10","v":4.09},{"d":"2025-12-02","s":"30","v":4.74},
{"d":"2025-12-03","s":"1","v":3.57},{"d":"2025-12-03","s":"2","v":3.49},{"d":"2025-12-03","s":"5","v":3.62},{"d":"2025-12-03","s":"10","v":4.06},{"d":"2025-12-03","s":"30","v":4.73},
{"d":"2025-12-04","s":"1","v":3.60},{"d":"2025-12-04","s":"2","v":3.53},{"d":"2025-12-04","s":"5","v":3.68},{"d":"2025-12-04","s":"10","v":4.11},{"d":"2025-12-04","s":"30","v":4.76},
{"d":"2025-12-05","s":"1","v":3.61},{"d":"2025-12-05","s":"2","v":3.56},{"d":"2025-12-05","s":"5","v":3.72},{"d":"2025-12-05","s":"10","v":4.14},{"d":"2025-12-05","s":"30","v":4.79},
{"d":"2025-12-08","s":"1","v":3.61},{"d":"2025-12-08","s":"2","v":3.57},{"d":"2025-12-08","s":"5","v":3.75},{"d":"2025-12-08","s":"10","v":4.17},{"d":"2025-12-08","s":"30","v":4.81},
{"d":"2025-12-09","s":"1","v":3.63},{"d":"2025-12-09","s":"2","v":3.61},{"d":"2025-12-09","s":"5","v":3.78},{"d":"2025-12-09","s":"10","v":4.18},{"d":"2025-12-09","s":"30","v":4.80},
{"d":"2025-12-10","s":"1","v":3.58},{"d":"2025-12-10","s":"2","v":3.54},{"d":"2025-12-10","s":"5","v":3.72},{"d":"2025-12-10","s":"10","v":4.13},{"d":"2025-12-10","s":"30","v":4.78},
{"d":"2025-12-11","s":"1","v":3.56},{"d":"2025-12-11","s":"2","v":3.52},{"d":"2025-12-11","s":"5","v":3.72},{"d":"2025-12-11","s":"10","v":4.14},{"d":"2025-12-11","s":"30","v":4.79},
{"d":"2025-12-12","s":"1","v":3.54},{"d":"2025-12-12","s":"2","v":3.52},{"d":"2025-12-12","s":"5","v":3.75},{"d":"2025-12-12","s":"10","v":4.19},{"d":"2025-12-12","s":"30","v":4.85},
{"d":"2025-12-15","s":"1","v":3.52},{"d":"2025-12-15","s":"2","v":3.51},{"d":"2025-12-15","s":"5","v":3.73},{"d":"2025-12-15","s":"10","v":4.18},{"d":"2025-12-15","s":"30","v":4.84},
{"d":"2025-12-16","s":"1","v":3.51},{"d":"2025-12-16","s":"2","v":3.48},{"d":"2025-12-16","s":"5","v":3.69},{"d":"2025-12-16","s":"10","v":4.15},{"d":"2025-12-16","s":"30","v":4.82},
{"d":"2025-12-17","s":"1","v":3.51},{"d":"2025-12-17","s":"2","v":3.49},{"d":"2025-12-17","s":"5","v":3.70},{"d":"2025-12-17","s":"10","v":4.16},{"d":"2025-12-17","s":"30","v":4.83},
{"d":"2025-12-18","s":"1","v":3.49},{"d":"2025-12-18","s":"2","v":3.46},{"d":"2025-12-18","s":"5","v":3.66},{"d":"2025-12-18","s":"10","v":4.12},{"d":"2025-12-18","s":"30","v":4.80},
{"d":"2025-12-19","s":"1","v":3.51},{"d":"2025-12-19","s":"2","v":3.48},{"d":"2025-12-19","s":"5","v":3.70},{"d":"2025-12-19","s":"10","v":4.16},{"d":"2025-12-19","s":"30","v":4.82},
{"d":"2025-12-22","s":"1","v":3.53},{"d":"2025-12-22","s":"2","v":3.44},{"d":"2025-12-22","s":"5","v":3.71},{"d":"2025-12-22","s":"10","v":4.17},{"d":"2025-12-22","s":"30","v":4.84},
{"d":"2025-12-23","s":"1","v":3.52},{"d":"2025-12-23","s":"2","v":3.48},{"d":"2025-12-23","s":"5","v":3.72},{"d":"2025-12-23","s":"10","v":4.18},{"d":"2025-12-23","s":"30","v":4.83},
{"d":"2025-12-24","s":"1","v":3.50},{"d":"2025-12-24","s":"2","v":3.47},{"d":"2025-12-24","s":"5","v":3.70},{"d":"2025-12-24","s":"10","v":4.15},{"d":"2025-12-24","s":"30","v":4.79},
{"d":"2025-12-26","s":"1","v":3.50},{"d":"2025-12-26","s":"2","v":3.46},{"d":"2025-12-26","s":"5","v":3.69},{"d":"2025-12-26","s":"10","v":4.15},{"d":"2025-12-26","s":"30","v":4.80},
{"d":"2025-12-29","s":"1","v":3.49},{"d":"2025-12-29","s":"2","v":3.45},{"d":"2025-12-29","s":"5","v":3.68},{"d":"2025-12-29","s":"10","v":4.13},{"d":"2025-12-29","s":"30","v":4.80},
{"d":"2025-12-30","s":"1","v":3.48},{"d":"2025-12-30","s":"2","v":3.45},{"d":"2025-12-30","s":"5","v":3.67},{"d":"2025-12-30","s":"10","v":4.12},{"d":"2025-12-30","s":"30","v":4.80},
{"d":"2025-12-31","s":"1","v":3.47},{"d":"2025-12-31","s":"2","v":3.45},{"d":"2025-12-31","s":"5","v":3.68},{"d":"2025-12-31","s":"10","v":4.14},{"d":"2025-12-31","s":"30","v":4.81},
{"d":"2026-01-02","s":"1","v":3.47},{"d":"2026-01-02","s":"2","v":3.47},{"d":"2026-01-02","s":"5","v":3.74},{"d":"2026-01-02","s":"10","v":4.19},{"d":"2026-01-02","s":"30","v":4.86},
{"d":"2026-01-05","s":"1","v":3.47},{"d":"2026-01-05","s":"2","v":3.46},{"d":"2026-01-05","s":"5","v":3.71},{"d":"2026-01-05","s":"10","v":4.17},{"d":"2026-01-05","s":"30","v":4.85},
{"d":"2026-01-06","s":"1","v":3.48},{"d":"2026-01-06","s":"2","v":3.47},{"d":"2026-01-06","s":"5","v":3.72},{"d":"2026-01-06","s":"10","v":4.18},{"d":"2026-01-06","s":"30","v":4.86},
{"d":"2026-01-07","s":"1","v":3.48},{"d":"2026-01-07","s":"2","v":3.47},{"d":"2026-01-07","s":"5","v":3.70},{"d":"2026-01-07","s":"10","v":4.15},{"d":"2026-01-07","s":"30","v":4.82},
{"d":"2026-01-08","s":"1","v":3.48},{"d":"2026-01-08","s":"2","v":3.48},{"d":"2026-01-08","s":"5","v":3.74},{"d":"2026-01-08","s":"10","v":4.19},{"d":"2026-01-08","s":"30","v":4.85},
{"d":"2026-01-09","s":"1","v":3.52},{"d":"2026-01-09","s":"2","v":3.54},{"d":"2026-01-09","s":"5","v":3.75},{"d":"2026-01-09","s":"10","v":4.18},{"d":"2026-01-09","s":"30","v":4.82},
{"d":"2026-01-12","s":"1","v":3.53},{"d":"2026-01-12","s":"2","v":3.54},{"d":"2026-01-12","s":"5","v":3.77},{"d":"2026-01-12","s":"10","v":4.19},{"d":"2026-01-12","s":"30","v":4.83},
{"d":"2026-01-13","s":"1","v":3.51},{"d":"2026-01-13","s":"2","v":3.53},{"d":"2026-01-13","s":"5","v":3.76},{"d":"2026-01-13","s":"10","v":4.18},{"d":"2026-01-13","s":"30","v":4.83},
{"d":"2026-01-14","s":"1","v":3.50},{"d":"2026-01-14","s":"2","v":3.51},{"d":"2026-01-14","s":"5","v":3.72},{"d":"2026-01-14","s":"10","v":4.15},{"d":"2026-01-14","s":"30","v":4.79},
{"d":"2026-01-15","s":"1","v":3.53},{"d":"2026-01-15","s":"2","v":3.55},{"d":"2026-01-15","s":"5","v":3.77},{"d":"2026-01-15","s":"10","v":4.17},{"d":"2026-01-15","s":"30","v":4.79},
{"d":"2026-01-16","s":"1","v":3.55},{"d":"2026-01-16","s":"2","v":3.59},{"d":"2026-01-16","s":"5","v":3.82},{"d":"2026-01-16","s":"10","v":4.24},{"d":"2026-01-16","s":"30","v":4.83},
{"d":"2026-01-20","s":"1","v":3.53},{"d":"2026-01-20","s":"2","v":3.60},{"d":"2026-01-20","s":"5","v":3.86},{"d":"2026-01-20","s":"10","v":4.30},{"d":"2026-01-20","s":"30","v":4.91},
{"d":"2026-01-21","s":"1","v":3.53},{"d":"2026-01-21","s":"2","v":3.60},{"d":"2026-01-21","s":"5","v":3.83},{"d":"2026-01-21","s":"10","v":4.26},{"d":"2026-01-21","s":"30","v":4.87},
{"d":"2026-01-22","s":"1","v":3.53},{"d":"2026-01-22","s":"2","v":3.61},{"d":"2026-01-22","s":"5","v":3.85},{"d":"2026-01-22","s":"10","v":4.26},{"d":"2026-01-22","s":"30","v":4.84},
{"d":"2026-01-23","s":"1","v":3.53},{"d":"2026-01-23","s":"2","v":3.60},{"d":"2026-01-23","s":"5","v":3.85},{"d":"2026-01-23","s":"10","v":4.24},{"d":"2026-01-23","s":"30","v":4.82},
{"d":"2026-01-26","s":"1","v":3.52},{"d":"2026-01-26","s":"2","v":3.56},{"d":"2026-01-26","s":"5","v":3.82},{"d":"2026-01-26","s":"10","v":4.22},{"d":"2026-01-26","s":"30","v":4.80},
{"d":"2026-01-27","s":"1","v":3.50},{"d":"2026-01-27","s":"2","v":3.53},{"d":"2026-01-27","s":"5","v":3.81},{"d":"2026-01-27","s":"10","v":4.24},{"d":"2026-01-27","s":"30","v":4.83},
{"d":"2026-01-28","s":"1","v":3.52},{"d":"2026-01-28","s":"2","v":3.56},{"d":"2026-01-28","s":"5","v":3.83},{"d":"2026-01-28","s":"10","v":4.26},{"d":"2026-01-28","s":"30","v":4.85},
{"d":"2026-01-29","s":"1","v":3.50},{"d":"2026-01-29","s":"2","v":3.53},{"d":"2026-01-29","s":"5","v":3.80},{"d":"2026-01-29","s":"10","v":4.24},{"d":"2026-01-29","s":"30","v":4.85},
{"d":"2026-01-30","s":"1","v":3.48},{"d":"2026-01-30","s":"2","v":3.52},{"d":"2026-01-30","s":"5","v":3.79},{"d":"2026-01-30","s":"10","v":4.26},{"d":"2026-01-30","s":"30","v":4.87},
{"d":"2026-02-02","s":"1","v":3.49},{"d":"2026-02-02","s":"2","v":3.57},{"d":"2026-02-02","s":"5","v":3.83},{"d":"2026-02-02","s":"10","v":4.29},{"d":"2026-02-02","s":"30","v":4.90},
{"d":"2026-02-03","s":"1","v":3.49},{"d":"2026-02-03","s":"2","v":3.57},{"d":"2026-02-03","s":"5","v":3.83},{"d":"2026-02-03","s":"10","v":4.28},{"d":"2026-02-03","s":"30","v":4.90},
{"d":"2026-02-04","s":"1","v":3.49},{"d":"2026-02-04","s":"2","v":3.57},{"d":"2026-02-04","s":"5","v":3.83},{"d":"2026-02-04","s":"10","v":4.29},{"d":"2026-02-04","s":"30","v":4.91},
{"d":"2026-02-05","s":"1","v":3.44},{"d":"2026-02-05","s":"2","v":3.47},{"d":"2026-02-05","s":"5","v":3.74},{"d":"2026-02-05","s":"10","v":4.21},{"d":"2026-02-05","s":"30","v":4.85},
{"d":"2026-02-06","s":"1","v":3.45},{"d":"2026-02-06","s":"2","v":3.50},{"d":"2026-02-06","s":"5","v":3.76},{"d":"2026-02-06","s":"10","v":4.22},{"d":"2026-02-06","s":"30","v":4.85},
{"d":"2026-02-09","s":"1","v":3.43},{"d":"2026-02-09","s":"2","v":3.48},{"d":"2026-02-09","s":"5","v":3.75},{"d":"2026-02-09","s":"10","v":4.22},{"d":"2026-02-09","s":"30","v":4.85},
{"d":"2026-02-10","s":"1","v":3.40},{"d":"2026-02-10","s":"2","v":3.45},{"d":"2026-02-10","s":"5","v":3.70},{"d":"2026-02-10","s":"10","v":4.16},{"d":"2026-02-10","s":"30","v":4.78},
{"d":"2026-02-11","s":"1","v":3.47},{"d":"2026-02-11","s":"2","v":3.52},{"d":"2026-02-11","s":"5","v":3.75},{"d":"2026-02-11","s":"10","v":4.18},{"d":"2026-02-11","s":"30","v":4.82},
{"d":"2026-02-12","s":"1","v":3.45},{"d":"2026-02-12","s":"2","v":3.47},{"d":"2026-02-12","s":"5","v":3.67},{"d":"2026-02-12","s":"10","v":4.09},{"d":"2026-02-12","s":"30","v":4.72},
{"d":"2026-02-13","s":"1","v":3.42},{"d":"2026-02-13","s":"2","v":3.40},{"d":"2026-02-13","s":"5","v":3.61},{"d":"2026-02-13","s":"10","v":4.04},{"d":"2026-02-13","s":"30","v":4.69},
{"d":"2026-02-17","s":"1","v":3.48},{"d":"2026-02-17","s":"2","v":3.43},{"d":"2026-02-17","s":"5","v":3.63},{"d":"2026-02-17","s":"10","v":4.05},{"d":"2026-02-17","s":"30","v":4.68},
{"d":"2026-02-18","s":"1","v":3.49},{"d":"2026-02-18","s":"2","v":3.47},{"d":"2026-02-18","s":"5","v":3.66},{"d":"2026-02-18","s":"10","v":4.09},{"d":"2026-02-18","s":"30","v":4.71},
{"d":"2026-02-19","s":"1","v":3.50},{"d":"2026-02-19","s":"2","v":3.47},{"d":"2026-02-19","s":"5","v":3.65},{"d":"2026-02-19","s":"10","v":4.08},{"d":"2026-02-19","s":"30","v":4.70},
{"d":"2026-02-20","s":"1","v":3.51},{"d":"2026-02-20","s":"2","v":3.48},{"d":"2026-02-20","s":"5","v":3.65},{"d":"2026-02-20","s":"10","v":4.08},{"d":"2026-02-20","s":"30","v":4.72},
{"d":"2026-02-23","s":"1","v":3.50},{"d":"2026-02-23","s":"2","v":3.43},{"d":"2026-02-23","s":"5","v":3.59},{"d":"2026-02-23","s":"10","v":4.03},{"d":"2026-02-23","s":"30","v":4.70},
{"d":"2026-02-24","s":"1","v":3.52},{"d":"2026-02-24","s":"2","v":3.43},{"d":"2026-02-24","s":"5","v":3.61},{"d":"2026-02-24","s":"10","v":4.04},{"d":"2026-02-24","s":"30","v":4.70},
{"d":"2026-02-25","s":"1","v":3.53},{"d":"2026-02-25","s":"2","v":3.45},{"d":"2026-02-25","s":"5","v":3.61},{"d":"2026-02-25","s":"10","v":4.05},{"d":"2026-02-25","s":"30","v":4.70},
{"d":"2026-02-26","s":"1","v":3.52},{"d":"2026-02-26","s":"2","v":3.42},{"d":"2026-02-26","s":"5","v":3.56},{"d":"2026-02-26","s":"10","v":4.02},{"d":"2026-02-26","s":"30","v":4.67},
{"d":"2026-02-27","s":"1","v":3.48},{"d":"2026-02-27","s":"2","v":3.38},{"d":"2026-02-27","s":"5","v":3.51},{"d":"2026-02-27","s":"10","v":3.97},{"d":"2026-02-27","s":"30","v":4.64},
{"d":"2026-03-02","s":"1","v":3.53},{"d":"2026-03-02","s":"2","v":3.47},{"d":"2026-03-02","s":"5","v":3.62},{"d":"2026-03-02","s":"10","v":4.05},{"d":"2026-03-02","s":"30","v":4.70},
{"d":"2026-03-03","s":"1","v":3.55},{"d":"2026-03-03","s":"2","v":3.50},{"d":"2026-03-03","s":"5","v":3.63},{"d":"2026-03-03","s":"10","v":4.06},{"d":"2026-03-03","s":"30","v":4.70},
{"d":"2026-03-04","s":"1","v":3.58},{"d":"2026-03-04","s":"2","v":3.54},{"d":"2026-03-04","s":"5","v":3.68},{"d":"2026-03-04","s":"10","v":4.09},{"d":"2026-03-04","s":"30","v":4.72},
{"d":"2026-03-05","s":"1","v":3.59},{"d":"2026-03-05","s":"2","v":3.57},{"d":"2026-03-05","s":"5","v":3.72},{"d":"2026-03-05","s":"10","v":4.13},{"d":"2026-03-05","s":"30","v":4.74},
{"d":"2026-03-06","s":"1","v":3.55},{"d":"2026-03-06","s":"2","v":3.56},{"d":"2026-03-06","s":"5","v":3.72},{"d":"2026-03-06","s":"10","v":4.15},{"d":"2026-03-06","s":"30","v":4.77},
{"d":"2026-03-09","s":"1","v":3.56},{"d":"2026-03-09","s":"2","v":3.56},{"d":"2026-03-09","s":"5","v":3.71},{"d":"2026-03-09","s":"10","v":4.12},{"d":"2026-03-09","s":"30","v":4.72},
{"d":"2026-03-10","s":"1","v":3.56},{"d":"2026-03-10","s":"2","v":3.57},{"d":"2026-03-10","s":"5","v":3.73},{"d":"2026-03-10","s":"10","v":4.15},{"d":"2026-03-10","s":"30","v":4.77},
{"d":"2026-03-11","s":"1","v":3.60},{"d":"2026-03-11","s":"2","v":3.63},{"d":"2026-03-11","s":"5","v":3.79},{"d":"2026-03-11","s":"10","v":4.21},{"d":"2026-03-11","s":"30","v":4.86},
{"d":"2026-03-12","s":"1","v":3.66},{"d":"2026-03-12","s":"2","v":3.76},{"d":"2026-03-12","s":"5","v":3.88},{"d":"2026-03-12","s":"10","v":4.27},{"d":"2026-03-12","s":"30","v":4.88},
{"d":"2026-03-13","s":"1","v":3.66},{"d":"2026-03-13","s":"2","v":3.73},{"d":"2026-03-13","s":"5","v":3.87},{"d":"2026-03-13","s":"10","v":4.28},{"d":"2026-03-13","s":"30","v":4.90},
{"d":"2026-03-16","s":"1","v":3.64},{"d":"2026-03-16","s":"2","v":3.68},{"d":"2026-03-16","s":"5","v":3.81},{"d":"2026-03-16","s":"10","v":4.23},{"d":"2026-03-16","s":"30","v":4.86},
{"d":"2026-03-17","s":"1","v":3.63},{"d":"2026-03-17","s":"2","v":3.68},{"d":"2026-03-17","s":"5","v":3.79},{"d":"2026-03-17","s":"10","v":4.20},{"d":"2026-03-17","s":"30","v":4.85},
{"d":"2026-03-18","s":"1","v":3.70},{"d":"2026-03-18","s":"2","v":3.76},{"d":"2026-03-18","s":"5","v":3.87},{"d":"2026-03-18","s":"10","v":4.26},{"d":"2026-03-18","s":"30","v":4.88},
{"d":"2026-03-19","s":"1","v":3.75},{"d":"2026-03-19","s":"2","v":3.79},{"d":"2026-03-19","s":"5","v":3.88},{"d":"2026-03-19","s":"10","v":4.25},{"d":"2026-03-19","s":"30","v":4.83},
{"d":"2026-03-20","s":"1","v":3.80},{"d":"2026-03-20","s":"2","v":3.88},{"d":"2026-03-20","s":"5","v":4.01},{"d":"2026-03-20","s":"10","v":4.39},{"d":"2026-03-20","s":"30","v":4.96},
{"d":"2026-03-23","s":"1","v":3.76},{"d":"2026-03-23","s":"2","v":3.83},{"d":"2026-03-23","s":"5","v":3.95},{"d":"2026-03-23","s":"10","v":4.34},{"d":"2026-03-23","s":"30","v":4.91},
{"d":"2026-03-24","s":"1","v":3.81},{"d":"2026-03-24","s":"2","v":3.90},{"d":"2026-03-24","s":"5","v":4.03},{"d":"2026-03-24","s":"10","v":4.39},{"d":"2026-03-24","s":"30","v":4.94},
{"d":"2026-03-25","s":"1","v":3.77},{"d":"2026-03-25","s":"2","v":3.84},{"d":"2026-03-25","s":"5","v":3.96},{"d":"2026-03-25","s":"10","v":4.33},{"d":"2026-03-25","s":"30","v":4.89},
{"d":"2026-03-26","s":"1","v":3.83},{"d":"2026-03-26","s":"2","v":3.96},{"d":"2026-03-26","s":"5","v":4.08},{"d":"2026-03-26","s":"10","v":4.42},{"d":"2026-03-26","s":"30","v":4.94},
{"d":"2026-03-27","s":"1","v":3.77},{"d":"2026-03-27","s":"2","v":3.88},{"d":"2026-03-27","s":"5","v":4.06},{"d":"2026-03-27","s":"10","v":4.44},{"d":"2026-03-27","s":"30","v":4.98}
]},
"layer":[
{"data":{"name":"rates"},
 "mark":{"type":"line","strokeWidth":3.5},
 "encoding":{
  "x":{"field":"d","type":"temporal",
   "scale":{"type":"utc","domain":[{"year":2025,"month":3,"date":28,"utc":true},{"year":2026,"month":3,"date":27,"utc":true}]},
   "axis":{"orient":"bottom","values":[{"year":2025,"month":5,"date":1,"utc":true},{"year":2025,"month":7,"date":1,"utc":true},{"year":2025,"month":9,"date":1,"utc":true},{"year":2025,"month":11,"date":1,"utc":true},{"year":2026,"month":1,"date":1,"utc":true},{"year":2026,"month":3,"date":1,"utc":true}],
    "format":"%b '%y","labelFont":"Roboto","labelFontSize":24,"labelColor":"#666666","labelPadding":17,"labelFlush":false,"labelOverlap":false,
    "ticks":false,"tickSize":0,"grid":true,"gridColor":"#e6e6e6","gridWidth":1,
    "domain":true,"domainColor":"#cfcfcf","domainWidth":2.5,
    "title":"CHARTS","titleX":1809,"titleY":115,"titleAlign":"left","titleBaseline":"middle","titleAngle":0,"titleFont":"DejaVu Sans","titleFontSize":33,"titleFontWeight":"bold","titleColor":"#111111"}},
  "y":{"field":"v","type":"quantitative",
   "scale":{"domain":[3,5.4],"nice":false,"zero":false},
   "axis":{"orient":"right","values":[3,3.6,4.2,4.8],"labelExpr":"format(datum.value, '.2f') + '%'",
    "labelFont":"Roboto","labelFontSize":24,"labelColor":"#666666","labelPadding":14,"labelBaseline":"bottom","labelAlign":"left","labelOverlap":false,
    "ticks":false,"tickSize":0,"grid":true,"gridColor":"#e6e6e6","gridWidth":1,
    "domain":true,"domainColor":"#cfcfcf","domainWidth":1,
    "title":"Y","titleX":-4,"titleY":1123,"titleAlign":"left","titleBaseline":"middle","titleAngle":0,"titleFont":"DejaVu Sans","titleFontSize":33,"titleFontWeight":"bold","titleColor":"#1d8fe8"}},
  "color":{"field":"s","type":"nominal",
   "scale":{"domain":["1","2","5","10","30"],"range":["#6534c8","#fca46d","#4f8ada","#98c94f","#d61fa6"]},
   "legend":{"orient":"none","legendX":24.5,"legendY":-202,"title":null,"direction":"vertical","padding":0,
    "labelExpr":"datum.label + ' Year Treasury Rate'","labelFont":"Roboto","labelFontSize":24.6,"labelColor":"#222222","labelOffset":17.6,"labelLimit":400,
    "symbolType":"circle","symbolSize":169,"symbolStrokeWidth":0,"rowPadding":15.4,
    "encode":{"symbols":{"update":{"fill":{"scale":"color","field":"value"},"stroke":{"value":"transparent"},"opacity":{"value":1},"fillOpacity":{"value":1}}}}}}
 }},
{"data":{"name":"last"},
 "mark":{"type":"point","shape":"M0.06,0L1.11,-1L6,-1L6,1L1.11,1Z","size":1296,"filled":true,"opacity":1,"strokeWidth":0},
 "encoding":{"x":{"field":"d","type":"temporal"},"y":{"field":"v","type":"quantitative"},"color":{"field":"s","type":"nominal"}}},
{"data":{"name":"last"},
 "mark":{"type":"text","dx":55,"align":"center","baseline":"middle","font":"Roboto","fontSize":23,"fontWeight":"bold","color":"#ffffff"},
 "encoding":{"x":{"field":"d","type":"temporal"},"y":{"field":"v","type":"quantitative"},"text":{"field":"val"}}},
{"data":{"name":"last"},
 "mark":{"type":"point","opacity":0},
 "encoding":{
  "strokeDash":{"field":"val","type":"nominal","scale":{"domain":["3.77%","3.88%","4.06%","4.44%","4.98%"],"range":[[1,0],[1,0],[1,0],[1,0],[1,0]]},
   "legend":{"orient":"none","legendX":391.6,"legendY":-240.4,"padding":0,"title":"VAL","titleFont":"Roboto","titleFontSize":24,"titleFontWeight":"normal","titleColor":"#222222","titleAnchor":"end","titleAlign":"right","titlePadding":14.4,
    "labelAlign":"right","labelOffset":0,"labelFont":"Roboto","labelFontSize":24.5,"labelColor":"#222222","rowPadding":15.5,"symbolSize":0,"symbolOpacity":0,"symbolStrokeWidth":0}},
  "shape":{"field":"ann","type":"nominal","scale":{"domain":["-6.70%","-0.26%","2.02%","3.99%","7.35%"],"range":["circle","circle","circle","circle","circle"]},
   "legend":{"orient":"none","legendX":510.5,"legendY":-240.4,"padding":0,"title":"ANN","titleFont":"Roboto","titleFontSize":24,"titleFontWeight":"normal","titleColor":"#222222","titleAnchor":"end","titleAlign":"right","titlePadding":14.4,
    "labelAlign":"right","labelOffset":0,"labelFont":"Roboto","labelFontSize":24.5,"labelColor":"#222222","rowPadding":15.5,"symbolSize":0,"symbolOpacity":0,"symbolStrokeWidth":0}}
 }}
]
}
